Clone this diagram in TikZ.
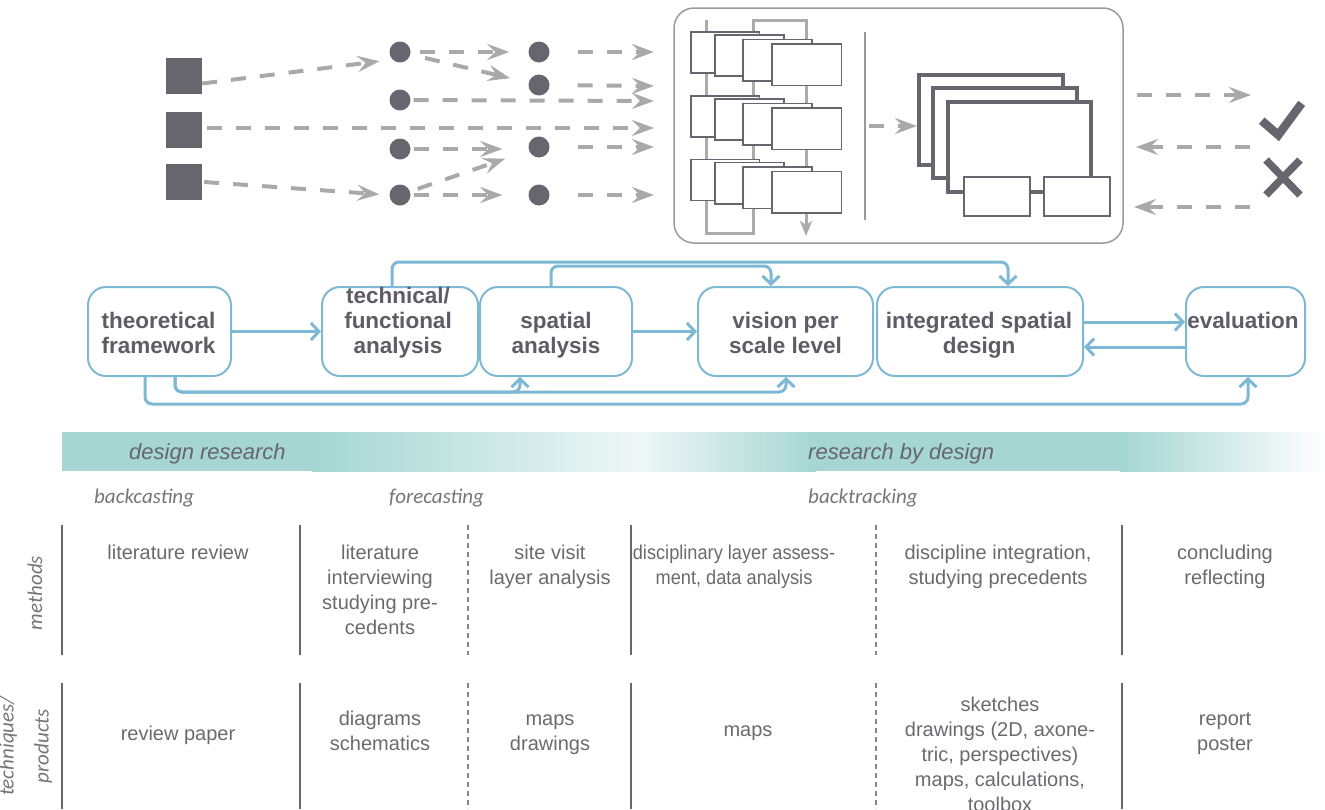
\documentclass[tikz,border=0pt]{standalone}
\usepackage{fontspec}
\setmainfont{Liberation Sans}
\newfontfamily\calfont{Carlito}
\newfontfamily\narrowfont[FakeStretch=0.91]{Liberation Sans}
\usetikzlibrary{arrows.meta}
\definecolor{darkg}{HTML}{67656E}
\definecolor{textg}{HTML}{5E5C64}
\definecolor{tabg}{HTML}{6B6970}
\definecolor{itg}{HTML}{77757C}
\definecolor{lgray}{HTML}{A9A9AB}
\definecolor{bluec}{HTML}{7DB9D4}
\definecolor{tealc}{HTML}{A5D6D2}
\definecolor{paleteal}{HTML}{EEF7F6}
\definecolor{framec}{HTML}{9A9A9C}
\definecolor{flowg}{HTML}{ABABAD}
\begin{document}
\begin{tikzpicture}[x=1pt,y=-1pt,
  sq/.style={rectangle,fill=darkg,minimum size=36pt,inner sep=0pt},
  dot/.style={circle,fill=darkg,minimum size=21pt,inner sep=0pt},
  darr/.style={draw=lgray,line width=4pt,dash pattern=on 15pt off 14pt,
     -{Stealth[length=22pt,width=16pt,inset=8pt,fill=lgray]}},
  pbox/.style={draw=bluec,line width=2pt,rounded corners=18pt,minimum height=89pt,inner sep=0pt},
  ptxt/.style={text=textg,font=\fontsize{22.5}{25}\selectfont\bfseries,align=center,inner sep=0pt,anchor=north},
  barr/.style={draw=bluec,line width=3pt,rounded corners=7pt,-{Straight Barb[length=8pt,width=17pt]}},
  ttxt/.style={text=tabg,font=\fontsize{20}{25}\selectfont,align=center,inner sep=0pt,anchor=north},
  itxt/.style={text=itg,font=\fontsize{21}{25}\selectfont\calfont\itshape,inner sep=0pt},
  btxt/.style={text=darkg,font=\fontsize{22}{25}\selectfont\itshape,inner sep=0pt,anchor=base west},
  tline/.style={draw=darkg,line width=2pt},
  dline/.style={draw=darkg!80,line width=1.2pt,dash pattern=on 5pt off 4pt},
  rect/.style={draw=darkg,line width=1.6pt,fill=white},
  thick rect/.style={draw=darkg,line width=4pt,fill=white}
]
\useasboundingbox (0,0) rectangle (1325,809);

% ---------- top left: sources and dots ----------
\node[sq] (s1) at (184,75.5) {};
\node[sq] (s2) at (184,129.5) {};
\node[sq] (s3) at (184,182) {};
\node[dot] (d1a) at (400,52) {};
\node[dot] (d1b) at (400,100) {};
\node[dot] (d1c) at (400,149) {};
\node[dot] (d1d) at (400,195) {};
\node[dot] (d2a) at (539,52) {};
\node[dot] (d2b) at (539,85) {};
\node[dot] (d2c) at (539,147) {};
\node[dot] (d2d) at (539,195) {};
\coordinate (e1) at (654,52);
\coordinate (e2) at (654,86);
\coordinate (e3) at (654,101);
\coordinate (e4) at (654,128);
\coordinate (e5) at (654,147);
\coordinate (e6) at (654,195);

\draw[darr,shorten >=13pt] ([yshift=-8pt]s1.east) -- (d1a.south west);
\draw[darr,shorten <=9pt,shorten >=19pt] (d1a) -- (d2a);
\draw[darr,shorten <=15pt,shorten >=19pt] (d1a) -- (d2b);
\draw[darr,shorten <=28pt] (d2a) -- (e1);
\draw[darr,shorten <=28pt] (d2b) -- (e2);
\draw[darr,shorten <=3pt] (d1b) -- (e3);
\draw[darr,shorten <=5pt] (s2.east |- e4) -- (e4);
\draw[darr,shorten <=3pt,shorten >=26pt] (d1c) -- (d2c.west |- d1c);
\draw[darr,shorten <=28pt] (d2c) -- (e5);
\draw[darr,shorten <=8pt,shorten >=25pt] (d1d) -- (d2c);
\draw[darr,shorten <=3pt,shorten >=26pt] (d1d) -- (d2d);
\draw[darr,shorten <=28pt] (d2d) -- (e6);
\draw[darr,shorten >=10pt] ([xshift=2pt]s3.east) -- (d1d.west);

% ---------- big rounded box ----------
\draw[framec,line width=1.5pt,rounded corners=20pt] (674,8) rectangle (1123,243);
\draw[flowg,line width=3pt,-{Stealth[length=15pt,width=12pt,inset=4pt]}]
  (706,20) -- (706,233) -- (753,233) -- (753,20) -- (806,20) -- (806,236);
\foreach \dy in {0,64,127.7}{
  \draw[rect] (690.7,31.7+\dy) rectangle (759.3,72.7+\dy);
  \draw[rect] (714.7,34.7+\dy) rectangle (784,76+\dy);
  \draw[rect] (742.7,39.3+\dy) rectangle (812,80.7+\dy);
  \draw[rect] (771.7,43.7+\dy) rectangle (841.3,85.3+\dy);
}
\draw[framec,line width=2pt] (865,32) -- (865,220);
\coordinate (m1) at (869,126);
\coordinate (m2) at (917,126);
\draw[darr] (m1) -- (m2);
\draw[thick rect] (919.3,75) rectangle (1062.7,165);
\draw[thick rect] (933.3,87.7) rectangle (1076.7,178.3);
\draw[thick rect] (948.3,101.7) rectangle (1091,192.3);
\draw[rect,line width=2pt] (964,176.7) rectangle (1030,216);
\draw[rect,line width=2pt] (1044,176.7) rectangle (1110,216);

% ---------- right: accept / reject ----------
\coordinate (r1s) at (1137,95);  \coordinate (r1e) at (1251,95);
\coordinate (r2s) at (1250,147); \coordinate (r2e) at (1136,147);
\coordinate (r3s) at (1250,207); \coordinate (r3e) at (1134,207);
\draw[darr] (r1s) -- (r1e);
\draw[darr] (r2s) -- (r2e);
\draw[darr] (r3s) -- (r3e);
\draw[darkg,line width=8.5pt] (1261.7,120.7) -- (1278.3,135) -- (1301.7,103.3);
\draw[darkg,line width=7.5pt] (1266,160) -- (1300,195) (1266,195) -- (1300,160);

% ---------- process boxes ----------
\node[pbox,minimum width=143pt] (tf) at (159.5,331.5) {};
\node[pbox,minimum width=156pt] (tech) at (400,331.5) {};
\node[pbox,minimum width=152pt] (spat) at (556,331.5) {};
\node[pbox,minimum width=175pt] (vis) at (785.5,331.5) {};
\node[pbox,minimum width=206pt] (isd) at (980,331.5) {};
\node[pbox,minimum width=119pt] (eva) at (1245.5,331.5) {};

\node[ptxt] (tft) at (158.5,310.5) {\strut theoretical\\framework};
\node[ptxt] (techt) at (398,285.5) {\strut technical/\\functional\\analysis};
\node[ptxt] (spatt) at (556,310.5) {\strut spatial\\analysis};
\node[ptxt] (vist) at (785.5,310.5) {\strut vision per\\scale level};
\node[ptxt] (isdt) at (979,310.5) {\strut integrated spatial\\design};
\node[ptxt] (evat) at (1243,310.5) {\strut evaluation};

\draw[barr] (tf.east) -- (tech.west);
\draw[barr] (spat.east) -- (vis.west);
\draw[barr] ([yshift=9.5pt]isd.east) -- ([yshift=9.5pt]eva.west);
\draw[barr] ([yshift=-15.5pt]eva.west) -- ([yshift=-15.5pt]isd.east);
\draw[barr] ([xshift=-8pt]tech.north) -- ++(0,-24) -| ([xshift=28pt]isd.north);
\draw[barr] ([xshift=-5pt]spat.north) -- ++(0,-20) -| ([xshift=-14.5pt]vis.north);
\draw[barr] ([xshift=-14.5pt]tf.south) -- ++(0,27) -| ([xshift=2.5pt]eva.south);
\draw[barr] ([xshift=15.5pt]tf.south) -- ++(0,15) -| ([xshift=-36pt]spat.south);
\draw[barr] ([xshift=15.5pt]tf.south) -- ++(0,15) -| ([xshift=0.5pt]vis.south);

% ---------- band ----------
\fill[tealc] (62,432) rectangle (313,471);
\shade[left color=tealc,right color=paleteal] (312,432) rectangle (641,471);
\shade[left color=paleteal,right color=tealc] (640,432) rectangle (816,471);
\fill[tealc] (815,432) rectangle (1121,471);
\shade[left color=tealc,right color=white] (1120,432) rectangle (1325,471);
\node[btxt] (dr) at (129,459) {design research};
\node[btxt] (rbd) at (808,459) {research by design};
\node[itxt,anchor=base west] (bc) at (94,503) {backcasting};
\node[itxt,anchor=base west] (fc) at (389,503) {forecasting};
\node[itxt,anchor=base west] (bt) at (808,503) {backtracking};

% ---------- table ----------
\foreach \x in {62,300,631,1122}{
  \draw[tline] (\x,525) -- (\x,655);
  \draw[tline] (\x,683) -- (\x,809);
}
\foreach \x in {468,876}{
  \draw[dline] (\x,525) -- (\x,655);
  \draw[dline] (\x,683) -- (\x,809);
}
\node[itxt,rotate=90] (meth) at (35,593) {methods};
\node[itxt,rotate=90] (tq) at (8,746) {techniques/};
\node[itxt,rotate=90] (pr) at (43,746) {products};

\node[ttxt] (c11) at (178,541.5) {\strut literature review};
\node[ttxt] (c12) at (380,541.5) {\strut literature\\interviewing\\studying pre-\\cedents};
\node[ttxt] (c13) at (550,541.5) {\strut site visit\\layer analysis};
\node[ttxt,font=\fontsize{20}{25}\selectfont\narrowfont] (c14) at (734,541.5) {\strut disciplinary layer assess-\\ment, data analysis};
\node[ttxt] (c15) at (998,541.5) {\strut discipline integration,\\studying precedents};
\node[ttxt] (c16) at (1225,541.5) {\strut concluding\\reflecting};

\node[ttxt] (c21) at (178,722.5) {\strut review paper};
\node[ttxt] (c22) at (380,707.5) {\strut diagrams\\schematics};
\node[ttxt] (c23) at (550,707.5) {\strut maps\\drawings};
\node[ttxt] (c24) at (748,718.5) {\strut maps};
\node[ttxt] (c25) at (1000,693.5) {\strut sketches\\drawings (2D, axone-\\tric, perspectives)\\maps, calculations,\\toolbox};
\node[ttxt] (c26) at (1225,707.5) {\strut report\\poster};
\end{tikzpicture}
\end{document}
